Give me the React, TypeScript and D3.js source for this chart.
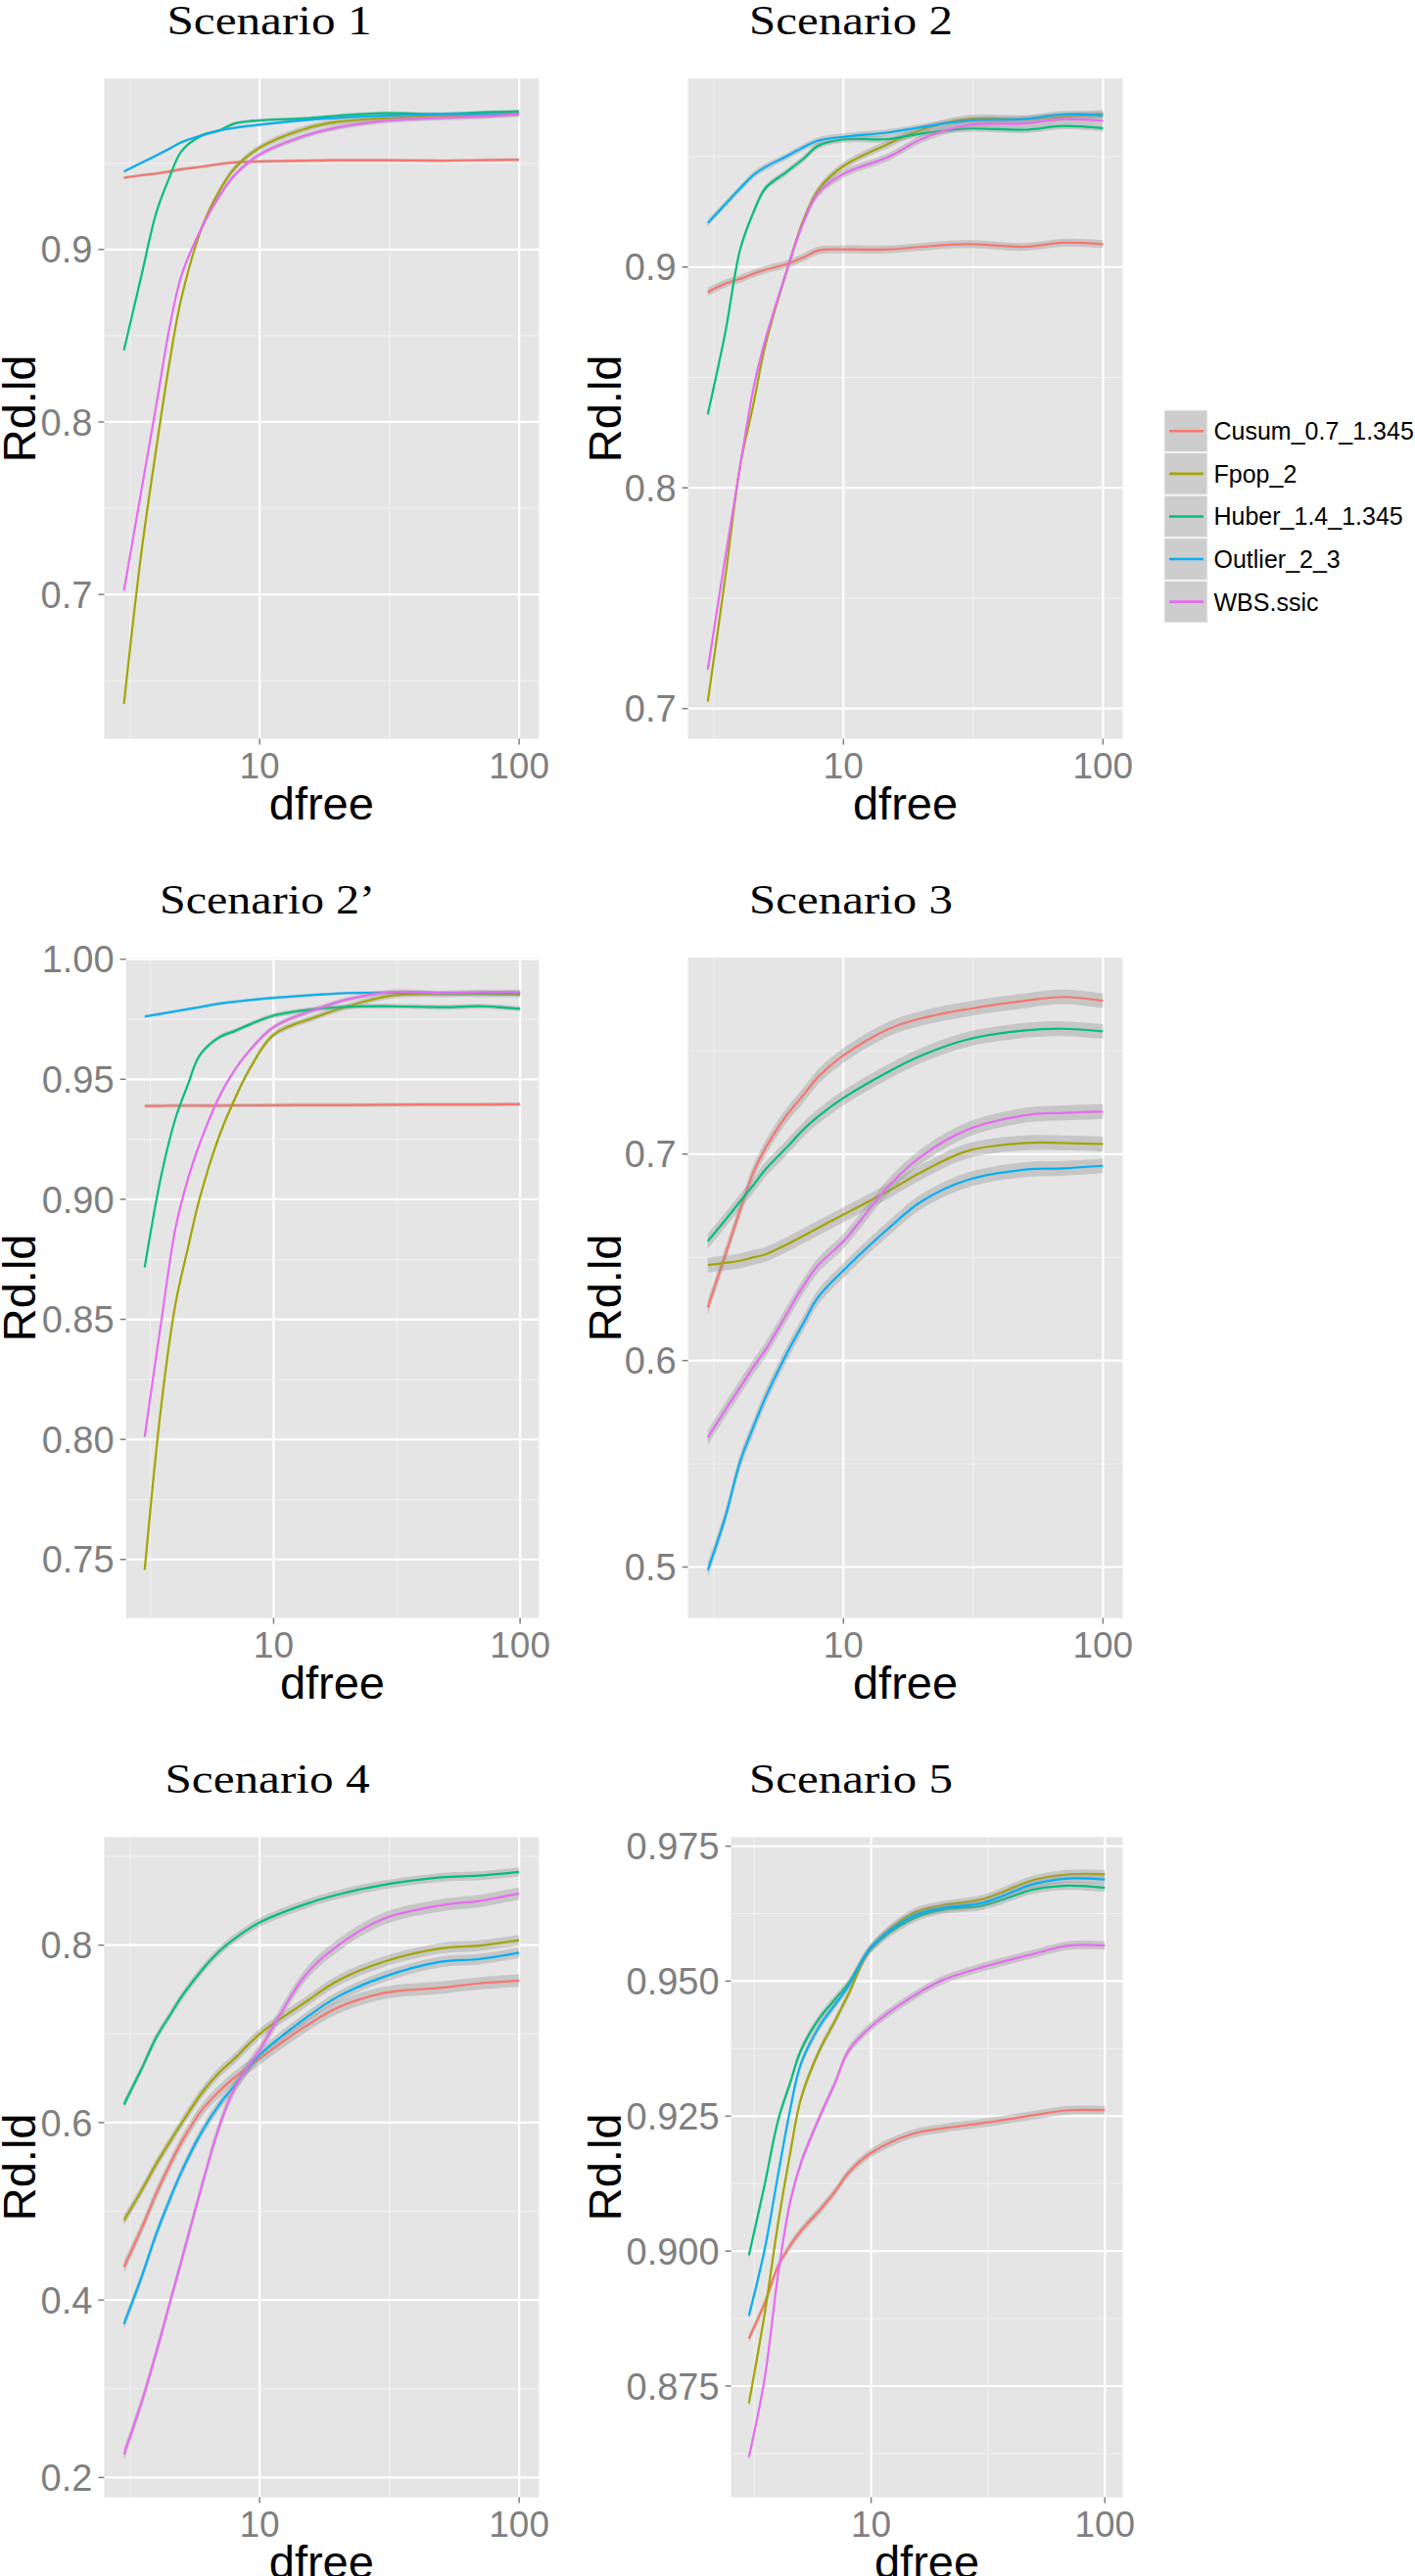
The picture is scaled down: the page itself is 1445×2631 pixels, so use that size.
import React from "react";
import * as d3 from "d3";

// ---------- data ----------
const DFREE = [3, 3.5, 4, 4.5, 5, 6, 7, 8, 10, 15, 20, 30, 50, 70, 100];
const SERIES = ["Cusum_0.7_1.345", "Fpop_2", "Huber_1.4_1.345", "Outlier_2_3", "WBS.ssic"];
const COLORS = ["#F8766D", "#A3A500", "#00BF7D", "#00B0F6", "#E76BF3"];

// rows in SERIES order: Cusum, Fpop, Huber, Outlier, WBS
const SCEN1 = [
  [0.9415, 0.943, 0.944, 0.9452, 0.9465, 0.948, 0.9495, 0.9505, 0.951, 0.9515, 0.9517, 0.9517, 0.9515, 0.9518, 0.952],
  [0.6366, 0.724, 0.785, 0.835, 0.872, 0.913, 0.934, 0.947, 0.959, 0.97, 0.974, 0.976, 0.9775, 0.978, 0.979],
  [0.8415, 0.8846, 0.9215, 0.942, 0.957, 0.9662, 0.969, 0.973, 0.9748, 0.976, 0.9775, 0.979, 0.9785, 0.9794, 0.98],
  [0.9452, 0.9502, 0.9545, 0.9585, 0.9622, 0.9662, 0.969, 0.9705, 0.9723, 0.975, 0.9763, 0.9775, 0.9785, 0.9785, 0.9785],
  [0.7022, 0.76, 0.81, 0.855, 0.885, 0.913, 0.931, 0.943, 0.955, 0.966, 0.9708, 0.9745, 0.9763, 0.977, 0.9785],
];
const SCEN2 = [
  [0.8887, 0.8925, 0.8947, 0.897, 0.8988, 0.9012, 0.9043, 0.9075, 0.908, 0.908, 0.9092, 0.9104, 0.9092, 0.911, 0.9104],
  [0.7031, 0.759, 0.81, 0.838, 0.8646, 0.897, 0.921, 0.935, 0.9458, 0.956, 0.9622, 0.967, 0.967, 0.968, 0.9694],
  [0.8333, 0.87, 0.908, 0.9248, 0.9357, 0.9429, 0.949, 0.955, 0.9578, 0.958, 0.9605, 0.9627, 0.9622, 0.9639, 0.9629],
  [0.92, 0.9284, 0.9357, 0.9417, 0.9453, 0.95, 0.9542, 0.9573, 0.959, 0.961, 0.9634, 0.9663, 0.967, 0.9692, 0.9687],
  [0.7176, 0.768, 0.81, 0.845, 0.867, 0.897, 0.92, 0.9335, 0.9422, 0.95, 0.958, 0.9643, 0.965, 0.967, 0.9663],
];
const SCEN2P = [
  [0.9389, 0.9389, 0.939, 0.939, 0.939, 0.939, 0.9391, 0.9391, 0.9392, 0.9393, 0.9393, 0.9394, 0.9395, 0.9395, 0.9396],
  [0.7457, 0.814, 0.8565, 0.88, 0.9, 0.926, 0.9424, 0.9543, 0.9685, 0.9761, 0.9804, 0.9848, 0.9854, 0.9854, 0.9852],
  [0.8717, 0.9098, 0.9337, 0.948, 0.9598, 0.9674, 0.9702, 0.9728, 0.9765, 0.9793, 0.9802, 0.9804, 0.98, 0.9804, 0.9793],
  [0.9761, 0.9773, 0.9783, 0.9792, 0.98, 0.9815, 0.9823, 0.983, 0.9839, 0.9852, 0.9859, 0.9861, 0.9859, 0.9859, 0.9859],
  [0.8011, 0.8489, 0.888, 0.9087, 0.9228, 0.9424, 0.9543, 0.962, 0.9717, 0.9793, 0.9833, 0.9863, 0.9859, 0.9863, 0.9863],
];
const SCEN3 = [
  [0.6257, 0.651, 0.673, 0.6913, 0.7028, 0.7183, 0.7285, 0.7375, 0.7478, 0.7607, 0.7658, 0.7702, 0.7743, 0.7761, 0.7743],
  [0.6463, 0.6473, 0.6483, 0.65, 0.6514, 0.656, 0.6604, 0.6643, 0.6707, 0.6823, 0.6913, 0.7015, 0.7054, 0.7054, 0.7049],
  [0.6578, 0.668, 0.6771, 0.685, 0.6925, 0.7028, 0.7118, 0.7183, 0.7272, 0.7401, 0.7478, 0.7555, 0.7599, 0.7607, 0.7594],
  [0.4985, 0.524, 0.5512, 0.568, 0.582, 0.6026, 0.618, 0.6308, 0.6437, 0.6643, 0.6771, 0.6874, 0.6925, 0.6931, 0.6943],
  [0.5627, 0.576, 0.5871, 0.597, 0.6051, 0.6219, 0.636, 0.6463, 0.6578, 0.6848, 0.699, 0.7118, 0.7188, 0.72, 0.7206],
];
const SCEN4 = [
  [0.4372, 0.48, 0.5203, 0.552, 0.578, 0.6144, 0.6356, 0.6508, 0.672, 0.7084, 0.7296, 0.746, 0.7521, 0.7569, 0.76],
  [0.49, 0.523, 0.5537, 0.578, 0.5992, 0.6338, 0.6568, 0.672, 0.7, 0.7357, 0.76, 0.7812, 0.7964, 0.7994, 0.8055],
  [0.6204, 0.66, 0.6963, 0.7205, 0.7418, 0.7721, 0.7933, 0.8073, 0.8255, 0.8461, 0.857, 0.8679, 0.8764, 0.8783, 0.8825],
  [0.3729, 0.425, 0.4749, 0.513, 0.5446, 0.5901, 0.6204, 0.6417, 0.676, 0.7175, 0.7418, 0.7642, 0.7812, 0.7842, 0.7915],
  [0.2261, 0.2838, 0.3414, 0.396, 0.4445, 0.5295, 0.5962, 0.6386, 0.682, 0.766, 0.7994, 0.8297, 0.8449, 0.8497, 0.8582],
];
const SCEN5 = [
  [0.8838, 0.8903, 0.8972, 0.901, 0.9037, 0.9075, 0.911, 0.9145, 0.9182, 0.9217, 0.9227, 0.9237, 0.9252, 0.9261, 0.9261],
  [0.8718, 0.8883, 0.9052, 0.918, 0.9281, 0.9371, 0.9426, 0.9476, 0.9561, 0.9625, 0.964, 0.9652, 0.9688, 0.9698, 0.9698],
  [0.8992, 0.9122, 0.9242, 0.9311, 0.9371, 0.9431, 0.9466, 0.9496, 0.9561, 0.9615, 0.9632, 0.964, 0.967, 0.9677, 0.9673],
  [0.888, 0.9002, 0.9142, 0.9261, 0.9346, 0.9416, 0.9456, 0.9491, 0.9563, 0.962, 0.9635, 0.9645, 0.968, 0.969, 0.9688],
  [0.8618, 0.8763, 0.8957, 0.909, 0.9162, 0.9247, 0.9311, 0.9371, 0.9416, 0.9471, 0.9501, 0.9526, 0.9551, 0.9566, 0.9566],
];
const PANEL_DATA = [SCEN1, SCEN2, SCEN2P, SCEN3, SCEN4, SCEN5];

// half-width of the confidence band, per panel, per series
const BAND_HALF = [
  [0.0009, 0.0018, 0.001, 0.0008, 0.0015],
  [0.0018, 0.0018, 0.0015, 0.0015, 0.0018],
  [0.0008, 0.0012, 0.001, 0.0006, 0.001],
  [0.0036, 0.0036, 0.0036, 0.0036, 0.0036],
  [0.007, 0.006, 0.005, 0.006, 0.007],
  [0.0008, 0.0008, 0.0008, 0.0008, 0.0008],
];

const TITLES = ["Scenario 1", "Scenario 2", "Scenario 2\u2019", "Scenario 3", "Scenario 4", "Scenario 5"];
const Y_DOMAINS = [
  [0.6163, 0.9991],
  [0.6863, 0.9854],
  [0.7256, 1.0006],
  [0.4753, 0.7951],
  [0.1777, 0.9219],
  [0.8544, 0.9767],
];
const Y_TICKS = [
  [0.7, 0.8, 0.9],
  [0.7, 0.8, 0.9],
  [0.75, 0.8, 0.85, 0.9, 0.95, 1.0],
  [0.5, 0.6, 0.7],
  [0.2, 0.4, 0.6, 0.8],
  [0.875, 0.9, 0.925, 0.95, 0.975],
];
const Y_DIGITS = [1, 1, 2, 1, 1, 3];
const X_TICKS = [10, 100];
const X_MINOR = [Math.pow(10, 0.5), Math.pow(10, 1.5)];
const X_RANGE = [3, 100];

// ---------- layout ----------
const W = 1445;
const H = 2631;
const ROW_OFFSET = [0, 898, 1796];
const BG_TOP = 80.2;
const BG_BOTTOM = 754.6;
const PLOT_LEFT = [106.4, 702.6, 128.6, 702.6, 106.4, 746.6];
const PLOT_RIGHT = [550.3, 1146.5];
const COL_X0 = [0, 598];
const TITLE_X = [275, 869, 273, 869, 273, 869];
const TITLE_LEN = [209, 208, 220, 208, 209, 208];
const SANS = "'Liberation Sans', Arial, Helvetica, sans-serif";
const SERIF = "'Liberation Serif', 'DejaVu Serif', serif";

function Panel({ i }: { i: number }) {
  const col = i % 2;
  const row = Math.floor(i / 2);
  const left = PLOT_LEFT[i];
  const right = PLOT_RIGHT[col];
  const top = BG_TOP + ROW_OFFSET[row];
  const bottom = BG_BOTTOM + ROW_OFFSET[row];

  const l0 = Math.log10(X_RANGE[0]);
  const l1 = Math.log10(X_RANGE[1]);
  const pad = 0.05 * (l1 - l0);
  const x = d3.scaleLog().domain([Math.pow(10, l0 - pad), Math.pow(10, l1 + pad)]).range([left, right]);
  const y = d3.scaleLinear().domain(Y_DOMAINS[i]).range([bottom, top]);

  const ticks = Y_TICKS[i];
  const step = ticks[1] - ticks[0];
  const minorY: number[] = [];
  for (let v = ticks[0] - step / 2; v <= Y_DOMAINS[i][1] + 1e-9; v += step) {
    if (v >= Y_DOMAINS[i][0]) minorY.push(v);
  }

  const data = PANEL_DATA[i];
  const clipId = `clip${i}`;
  const curve = d3.curveCatmullRom.alpha(0.5);

  return (
    <g>
      <defs>
        <clipPath id={clipId}>
          <rect x={left} y={top} width={right - left} height={bottom - top} />
        </clipPath>
      </defs>
      <text
        x={TITLE_X[i]}
        y={35 + ROW_OFFSET[row]}
        textAnchor="middle"
        fontFamily={SERIF}
        fontSize={43}
        textLength={TITLE_LEN[i]}
        lengthAdjust="spacingAndGlyphs"
        fill="#000"
      >
        {TITLES[i]}
      </text>
      <rect x={left} y={top} width={right - left} height={bottom - top} fill="#E5E5E5" />
      {minorY.map((v) => (
        <line key={`my${v}`} x1={left} x2={right} y1={y(v)} y2={y(v)} stroke="#F2F2F2" strokeWidth={1} />
      ))}
      {X_MINOR.map((v) => (
        <line key={`mx${v}`} x1={x(v)} x2={x(v)} y1={top} y2={bottom} stroke="#F2F2F2" strokeWidth={1} />
      ))}
      {ticks.map((v) => (
        <line key={`gy${v}`} x1={left} x2={right} y1={y(v)} y2={y(v)} stroke="#FFFFFF" strokeWidth={2.2} />
      ))}
      {X_TICKS.map((v) => (
        <line key={`gx${v}`} x1={x(v)} x2={x(v)} y1={top} y2={bottom} stroke="#FFFFFF" strokeWidth={2.2} />
      ))}
      <g clipPath={`url(#${clipId})`}>
        {data.map((vals, s) => {
          const h = BAND_HALF[i][s];
          const area = d3
            .area<number>()
            .x((_, j) => x(DFREE[j]))
            .y0((v) => y(v - h))
            .y1((v) => y(v + h))
            .curve(curve);
          const line = d3
            .line<number>()
            .x((_, j) => x(DFREE[j]))
            .y((v) => y(v))
            .curve(curve);
          return (
            <g key={SERIES[s]}>
              <path d={area(vals) || ""} fill="#999999" fillOpacity={0.4} stroke="none" />
              <path d={line(vals) || ""} fill="none" stroke={COLORS[s]} strokeWidth={2.2} />
            </g>
          );
        })}
      </g>
      {ticks.map((v) => (
        <g key={`ty${v}`}>
          <line x1={left - 6} x2={left} y1={y(v)} y2={y(v)} stroke="#7F7F7F" strokeWidth={1.5} />
          <text
            x={left - 12}
            y={y(v)}
            dy="0.36em"
            textAnchor="end"
            fontFamily={SANS}
            fontSize={38}
            fill="#7F7F7F"
          >
            {v.toFixed(Y_DIGITS[i])}
          </text>
        </g>
      ))}
      {X_TICKS.map((v) => (
        <g key={`tx${v}`}>
          <line x1={x(v)} x2={x(v)} y1={bottom} y2={bottom + 6} stroke="#7F7F7F" strokeWidth={1.5} />
          <text x={x(v)} y={bottom + 40} textAnchor="middle" fontFamily={SANS} fontSize={37} fill="#7F7F7F">
            {String(v)}
          </text>
        </g>
      ))}
      <text
        x={(left + right) / 2}
        y={bottom + 82}
        textAnchor="middle"
        fontFamily={SANS}
        fontSize={47}
        fill="#000"
      >
        dfree
      </text>
      <text
        transform={`translate(${COL_X0[col] + 36},${(top + bottom) / 2}) rotate(-90)`}
        textAnchor="middle"
        fontFamily={SANS}
        fontSize={47}
        fill="#000"
      >
        Rd.ld
      </text>
    </g>
  );
}

function Legend() {
  const x0 = 1189;
  const y0 = 419;
  const kw = 44;
  const kh = 42.5;
  const pitch = 43.6;
  return (
    <g>
      {SERIES.map((name, s) => {
        const ky = y0 + s * pitch;
        return (
          <g key={name}>
            <rect x={x0} y={ky} width={kw} height={kh} fill="#CDCDCD" stroke="#F2F2F2" strokeWidth={1} />
            <line x1={x0 + 5} x2={x0 + kw - 4} y1={ky + kh / 2} y2={ky + kh / 2} stroke={COLORS[s]} strokeWidth={2.6} />
            <text x={x0 + 50.5} y={ky + kh / 2 + 9} fontFamily={SANS} fontSize={25} fill="#000">
              {name}
            </text>
          </g>
        );
      })}
    </g>
  );
}

export default function App() {
  return (
    <svg
      width={W}
      height={H}
      viewBox={`0 0 ${W} ${H}`}
      style={{ position: "absolute", left: 0, top: 0, background: "#FFFFFF" }}
    >
      <rect x={0} y={0} width={W} height={H} fill="#FFFFFF" />
      {TITLES.map((_, i) => (
        <Panel key={i} i={i} />
      ))}
      <Legend />
    </svg>
  );
}
